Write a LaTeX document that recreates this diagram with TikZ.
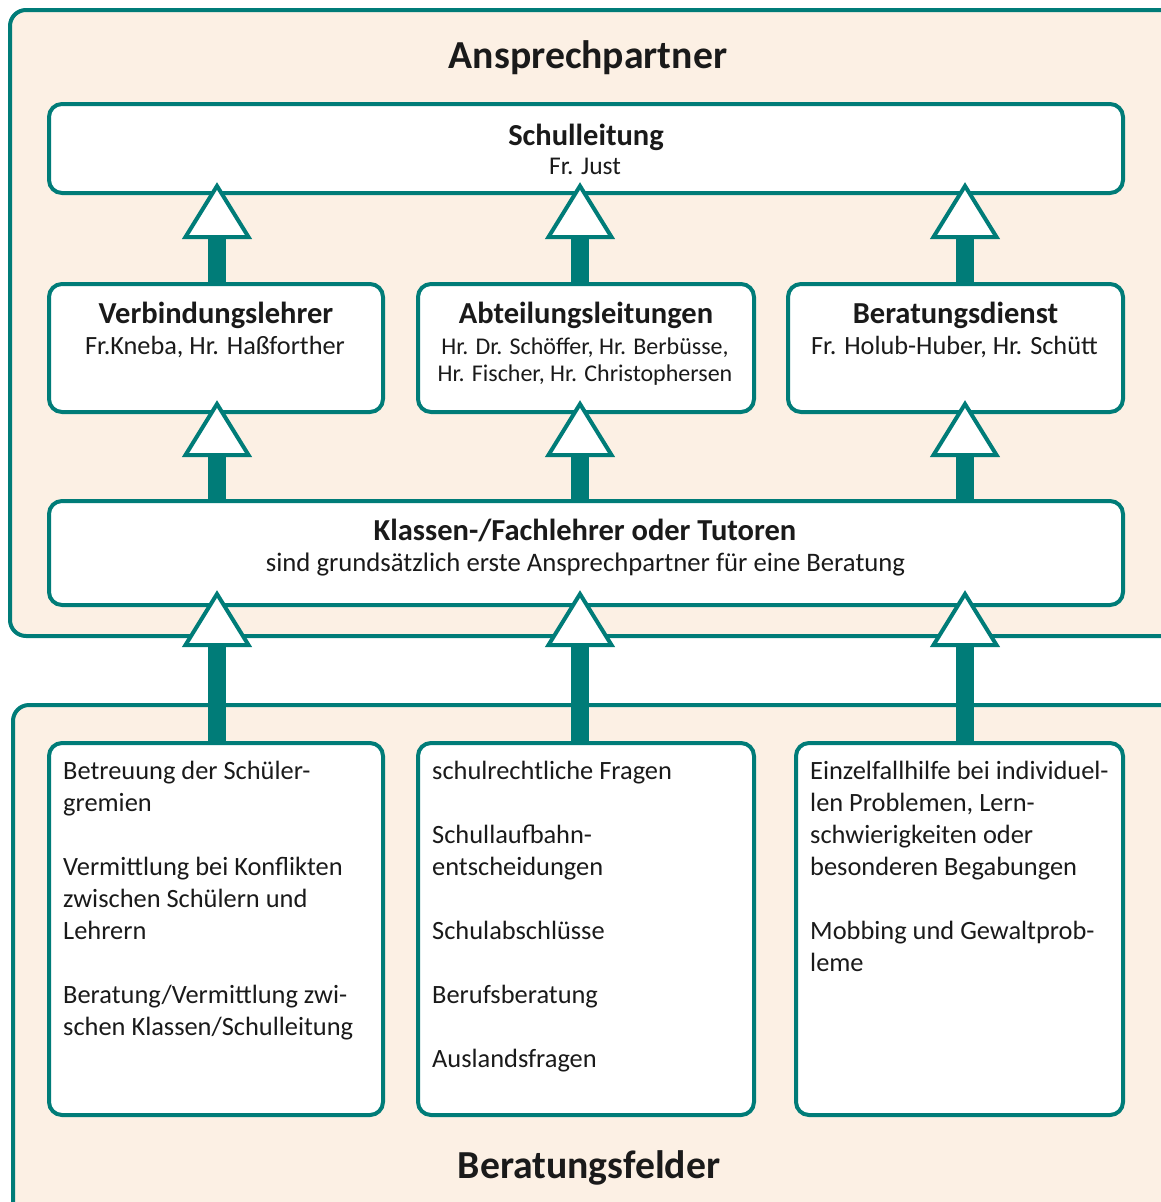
\documentclass[tikz,border=0pt]{standalone}
\usepackage{fontspec}
\setmainfont{Carlito}
\usetikzlibrary{calc}
\definecolor{teal1}{RGB}{0,124,120}
\definecolor{peach}{RGB}{252,240,228}
\definecolor{ink}{RGB}{26,26,26}
\newcommand\hugef{\fontsize{39.7}{46}\selectfont\bfseries}
\newcommand\titf{\fontsize{30.5}{37}\selectfont\bfseries}
\newcommand\subf{\fontsize{26.3}{27}\selectfont}
\newcommand\subsf{\fontsize{24}{27}\selectfont}
\newcommand\bodyf{\fontsize{26.4}{32}\selectfont}
\begin{document}
\begin{tikzpicture}[x=1pt,y=-1pt,
  panel/.style={draw=teal1, line width=4pt, fill=peach, rounded corners=16pt},
  box/.style={draw=teal1, line width=4pt, fill=white, rounded corners=13pt, rectangle, inner sep=0pt},
  lbl/.style={anchor=base, inner sep=0pt, text=ink},
  body/.style={anchor=base west, inner sep=0pt, text=ink},
  shaft/.style={fill=teal1},
  tri/.style={draw=teal1, line width=4pt, fill=white, line join=miter}]
\useasboundingbox (0,0) rectangle (1161,1202);
\clip (0,0) rectangle (1161,1202);
% panels
\draw[panel] (10,10) rectangle (1220,636);
\draw[panel] (13,705) rectangle (1220,1260);
% boxes
\node[box, minimum width=1074pt, minimum height=89pt] (sl) at (586,148.5) {};
\node[box, minimum width=334pt, minimum height=128pt] (vl) at (216,348) {};
\node[box, minimum width=336pt, minimum height=128pt] (al) at (586,348) {};
\node[box, minimum width=335pt, minimum height=128pt] (bd) at (955.5,348) {};
\node[box, minimum width=1074pt, minimum height=104pt] (kl) at (586,553) {};
\node[box, minimum width=334pt, minimum height=372pt] (f1) at (216,929) {};
\node[box, minimum width=336pt, minimum height=372pt] (f2) at (586,929) {};
\node[box, minimum width=327pt, minimum height=372pt] (f3) at (959.5,929) {};
% arrows
\newcommand\uparr[3]{%
  \coordinate (tip#3) at (#1,#2);
  \fill[shaft] ($(tip#3)+(-9,45)$) rectangle (#1+9,0 |- #3.north);
  \draw[tri] (tip#3) -- ++(31.5,51) -- ++(-63,0) -- cycle;}
\uparr{217}{186}{vl}
\uparr{580}{186}{al}
\uparr{965}{186}{bd}
\uparr{217}{404}{kl}
\uparr{580}{404}{kl}
\uparr{965}{404}{kl}
\uparr{217}{594}{f1}
\uparr{580}{594}{f2}
\uparr{965}{594}{f3}
% texts
\node[lbl, font=\hugef] (h1) at (588,68) {Ansprechpartner};
\node[lbl, font=\hugef] (h2) at (589,1178) {Beratungsfelder};
\node[lbl, font=\titf] (t1) at (586,145) {Schulleitung};
\node[lbl, font=\subf] (s1) at (585,174) {\fontsize{25.5}{27}\selectfont Fr. Just};
\node[lbl, font=\titf] (t2) at (216,323) {Verbindungslehrer};
\node[lbl, font=\subf] (s2) at (215,354) {Fr.Kneba, Hr. Haßforther};
\node[lbl, font=\titf] (t3) at (586,323) {Abteilungsleitungen};
\node[lbl, font=\subsf] (s3) at (585,354) {Hr. Dr. Schöffer, Hr. Berbüsse,};
\node[lbl, font=\subsf] (s3b) at (585,381) {Hr. Fischer, Hr. Christophersen};
\node[lbl, font=\titf] (t4) at (955.5,323) {Beratungsdienst};
\node[lbl, font=\subf] (s4) at (954.5,354) {Fr. Holub-Huber, Hr. Schütt};
\node[lbl, font=\titf] (t5) at (585,540) {Klassen-/Fachlehrer oder Tutoren};
\node[lbl, font=\subf] (s5) at (585.5,571) {\fontsize{26.7}{27}\selectfont sind grundsätzlich erste Ansprechpartner für eine Beratung};
\node[body] (b1) at (63,779) {\parbox[t]{320pt}{\bodyf\raggedright
 Betreuung der Schüler-\\gremien\\[32pt]Vermittlung bei Konflikten\\zwischen Schülern und\\Lehrern\\[32pt]Beratung/Vermittlung zwi-\\schen Klassen/Schulleitung}};
\node[body] (b2) at (432,779) {\parbox[t]{320pt}{\bodyf\raggedright
 schulrechtliche Fragen\\[32pt]Schullaufbahn-\\entscheidungen\\[32pt]Schulabschlüsse\\[32pt]Berufsberatung\\[32pt]Auslandsfragen}};
\node[body] (b3) at (810,779) {\parbox[t]{320pt}{\bodyf\raggedright
 Einzelfallhilfe bei individuel-\\len Problemen, Lern-\\schwierigkeiten oder\\besonderen Begabungen\\[32pt]Mobbing und Gewaltprob-\\leme}};
\end{tikzpicture}
\end{document}
